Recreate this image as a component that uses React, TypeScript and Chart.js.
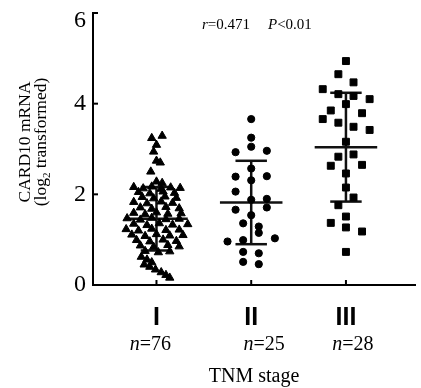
import React, { useEffect, useRef } from 'react';
import { Chart, registerables } from 'chart.js';

Chart.register(...registerables);

// ---- data ----
const stageLabels = ['I', 'II', 'III'];
const stageCounts = ['76', '25', '28'];
const yTickValues = [0, 2, 4, 6];
const corrR = '0.471';
const corrP = '0.01';

const groupMeans = [1.46, 1.82, 3.04];
const groupSDs = [0.70, 0.92, 1.20];

// Stage I (triangles): values and horizontal jitter (category units)
const stageIValues = [
  3.29, 3.24, 3.09, 2.94, 2.74, 2.70, 2.50, 2.28, 2.25,
  2.16, 2.13, 2.17, 2.12, 2.15, 2.14,
  2.05, 2.02, 2.06, 2.03,
  1.94, 1.91, 1.95, 1.92,
  1.83, 1.80, 1.84, 1.81,
  1.71, 1.68, 1.72, 1.69,
  1.59, 1.56, 1.60, 1.57, 1.58,
  1.47, 1.44, 1.48, 1.45, 1.46,
  1.35, 1.32, 1.36, 1.33, 1.34,
  1.23, 1.20, 1.24, 1.21, 1.22,
  1.11, 1.08, 1.12, 1.09, 1.10,
  0.99, 0.96, 1.00, 0.97,
  0.87, 0.84, 0.88, 0.85,
  0.75, 0.72, 0.74,
  0.62, 0.56, 0.50, 0.45, 0.40, 0.34, 0.28, 0.22, 0.16,
];
const stageIJitter = [
  0.06, -0.05, 0.0, -0.03, 0.0, 0.04, -0.06, 0.0, 0.06,
  -0.24, -0.14, -0.05, 0.05, 0.15, 0.25,
  -0.19, -0.07, 0.07, 0.19,
  -0.15, -0.03, 0.09, 0.21,
  -0.24, -0.1, 0.05, 0.17,
  -0.17, -0.05, 0.1, 0.24,
  -0.24, -0.12, 0.0, 0.12, 0.26,
  -0.31, -0.17, -0.05, 0.1, 0.24,
  -0.24, -0.1, 0.03, 0.17, 0.33,
  -0.32, -0.19, -0.05, 0.1, 0.24,
  -0.26, -0.12, 0.0, 0.14, 0.28,
  -0.21, -0.07, 0.07, 0.21,
  -0.17, -0.03, 0.12, 0.24,
  -0.12, 0.02, 0.14,
  -0.16, -0.1, -0.05, -0.13, -0.07, -0.01, 0.05, 0.1, 0.14,
];

// Stage II (circles)
const stageIIValues = [
  3.66, 3.25, 3.05, 2.93, 2.96, 2.57, 2.39, 2.40, 2.31, 2.06,
  1.88, 1.90, 1.71, 1.66, 1.54, 1.36, 1.29, 1.15, 0.96, 0.99,
  1.03, 0.73, 0.70, 0.51, 0.46,
];
const stageIIJitter = [
  0, 0, 0, -0.165, 0.165, 0, -0.165, 0.165, 0, -0.165,
  0, 0.165, 0.165, -0.165, 0, -0.085, 0.08, 0.08, -0.25, -0.085,
  0.25, -0.085, 0.08, -0.085, 0.08,
];

// Stage III (squares)
const stageIIIValues = [
  4.94, 4.65, 4.47, 4.32, 4.21, 4.17, 4.10, 3.99, 3.85, 3.79,
  3.66, 3.58, 3.49, 3.42, 3.16, 2.83, 2.88, 2.63, 2.65, 2.46,
  2.15, 1.93, 1.76, 1.51, 1.37, 1.27, 1.18, 0.73,
];
const stageIIIJitter = [
  0, -0.08, 0.08, -0.245, -0.08, 0.08, 0.25, 0, -0.16, 0.17,
  -0.245, -0.08, 0.08, 0.25, 0, -0.08, 0.08, -0.16, 0.17, 0,
  0, 0.08, -0.08, 0, -0.16, 0, 0.17, 0,
];

const toPoints = (center: number, values: number[], jitter: number[]) =>
  values.map((v, i) => ({ x: center + jitter[i], y: v }));

const SERIF = '"Liberation Serif", "Times New Roman", serif';
const SANS = '"Liberation Sans", Arial, sans-serif';

const decorPlugin = {
  id: 'decor',
  beforeDatasetsDraw(chart: any) {
    const { ctx, scales } = chart;
    const xs = scales.x;
    const ys = scales.y;
    ctx.save();
    ctx.strokeStyle = '#111';
    ctx.lineWidth = 2.5;
    const seg = (x1: number, y1: number, x2: number, y2: number) => {
      ctx.beginPath();
      ctx.moveTo(xs.getPixelForValue(x1), ys.getPixelForValue(y1));
      ctx.lineTo(xs.getPixelForValue(x2), ys.getPixelForValue(y2));
      ctx.stroke();
    };
    groupMeans.forEach((m, i) => {
      const c = i + 1;
      const sd = groupSDs[i];
      seg(c - 0.33, m, c + 0.33, m);
      seg(c, m - sd, c, m + sd);
      seg(c - 0.166, m + sd, c + 0.166, m + sd);
      seg(c - 0.166, m - sd, c + 0.166, m - sd);
    });
    ctx.restore();
  },
  afterDraw(chart: any) {
    const { ctx, scales, chartArea } = chart;
    const xs = scales.x;
    const ys = scales.y;
    const { left, right, top, bottom } = chartArea;
    ctx.save();
    ctx.fillStyle = '#000';
    ctx.strokeStyle = '#000';
    ctx.lineWidth = 2;

    // y ticks (inward) and labels
    ctx.font = `24px ${SERIF}`;
    ctx.textAlign = 'right';
    ctx.textBaseline = 'middle';
    yTickValues.forEach((v) => {
      const py = ys.getPixelForValue(v);
      ctx.beginPath();
      ctx.moveTo(left, py);
      ctx.lineTo(left + 5, py);
      ctx.stroke();
      ctx.fillText(String(v), left - 7, Math.max(py, top + 8));
    });

    // x ticks (inward) and labels
    const nShift = [-6, 13, 7];
    stageLabels.forEach((lab, i) => {
      const px = xs.getPixelForValue(i + 1);
      ctx.beginPath();
      ctx.moveTo(px, bottom);
      ctx.lineTo(px, bottom - 5);
      ctx.stroke();

      ctx.font = `bold 25px ${SANS}`;
      ctx.textAlign = 'center';
      ctx.textBaseline = 'alphabetic';
      ctx.fillText(lab, px, bottom + 40);

      ctx.textAlign = 'left';
      ctx.font = `italic 20px ${SERIF}`;
      const wn = ctx.measureText('n').width;
      ctx.font = `20px ${SERIF}`;
      const rest = '=' + stageCounts[i];
      const wr = ctx.measureText(rest).width;
      const sx = px - (wn + wr) / 2 + nShift[i];
      ctx.font = `italic 20px ${SERIF}`;
      ctx.fillText('n', sx, bottom + 65);
      ctx.font = `20px ${SERIF}`;
      ctx.fillText(rest, sx + wn, bottom + 65);
    });

    // x title
    ctx.font = `20px ${SERIF}`;
    ctx.textAlign = 'center';
    ctx.textBaseline = 'alphabetic';
    ctx.fillText('TNM stage', (left + right) / 2, bottom + 97);

    // y title (rotated, two lines)
    ctx.save();
    ctx.translate(0, 142);
    ctx.rotate(-Math.PI / 2);
    ctx.font = `17.5px ${SERIF}`;
    ctx.textAlign = 'center';
    ctx.fillText('CARD10 mRNA', 0, 30);
    const p1 = '(log';
    const p2 = '2';
    const p3 = ' transformed)';
    ctx.font = `17.5px ${SERIF}`;
    const w1 = ctx.measureText(p1).width;
    const w3 = ctx.measureText(p3).width;
    ctx.font = `11px ${SERIF}`;
    const w2 = ctx.measureText(p2).width;
    const total = w1 + w2 + w3;
    let cx = -total / 2;
    ctx.textAlign = 'left';
    ctx.font = `17.5px ${SERIF}`;
    ctx.fillText(p1, cx, 46);
    cx += w1;
    ctx.font = `11px ${SERIF}`;
    ctx.fillText(p2, cx, 50);
    cx += w2;
    ctx.font = `17.5px ${SERIF}`;
    ctx.fillText(p3, cx, 46);
    ctx.restore();

    // correlation annotation
    ctx.textAlign = 'left';
    ctx.textBaseline = 'alphabetic';
    let ax = 202;
    const ay = 29;
    ctx.font = `italic 15px ${SERIF}`;
    ctx.fillText('r', ax, ay);
    ax += ctx.measureText('r').width;
    ctx.font = `15px ${SERIF}`;
    ctx.fillText('=' + corrR, ax, ay);
    ax = 268;
    ctx.font = `italic 15px ${SERIF}`;
    ctx.fillText('P', ax, ay);
    ax += ctx.measureText('P').width;
    ctx.font = `15px ${SERIF}`;
    ctx.fillText('<' + corrP, ax, ay);

    ctx.restore();
  },
};

export default function App() {
  const ref = useRef<HTMLCanvasElement | null>(null);

  useEffect(() => {
    if (!ref.current) return;
    const chart = new Chart(ref.current, {
      type: 'scatter',
      data: {
        datasets: [
          {
            data: toPoints(1, stageIValues, stageIJitter),
            pointStyle: 'triangle',
            pointRadius: 4.8,
            backgroundColor: '#000',
            borderColor: '#000',
            borderWidth: 1,
          },
          {
            data: toPoints(2, stageIIValues, stageIIJitter),
            pointStyle: 'circle',
            pointRadius: 3.6,
            backgroundColor: '#000',
            borderColor: '#000',
            borderWidth: 1,
          },
          {
            data: toPoints(3, stageIIIValues, stageIIIJitter),
            pointStyle: 'rect',
            pointRadius: 4.9,
            backgroundColor: '#000',
            borderColor: '#000',
            borderWidth: 1,
          },
        ],
      },
      options: {
        animation: false,
        responsive: false,
        layout: { padding: { left: 93, top: 13, right: 1, bottom: 103 } },
        plugins: {
          legend: { display: false },
          tooltip: { enabled: false },
        },
        scales: {
          x: {
            type: 'linear',
            min: 0.33,
            max: 3.73,
            ticks: { display: false },
            grid: { display: false, drawTicks: false },
            border: { display: true, color: '#000', width: 2 },
          },
          y: {
            type: 'linear',
            min: 0,
            max: 6,
            ticks: { display: false },
            grid: { display: false, drawTicks: false },
            border: { display: true, color: '#000', width: 2 },
          },
        },
      },
      plugins: [decorPlugin],
    });
    return () => chart.destroy();
  }, []);

  return (
    <div style={{ position: 'fixed', left: 0, top: 0, width: 421, height: 388, background: '#fff' }}>
      <canvas ref={ref} width={421} height={388} style={{ display: 'block' }} />
    </div>
  );
}
